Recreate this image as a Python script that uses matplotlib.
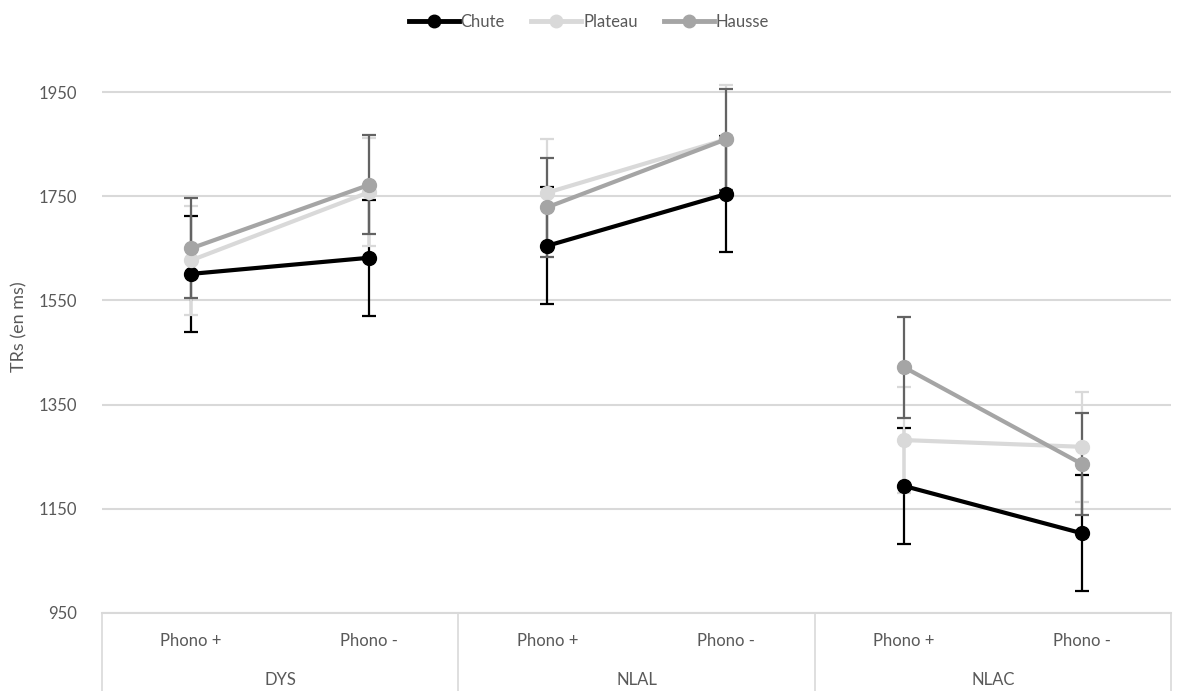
import matplotlib
matplotlib.use("Agg")
import matplotlib.pyplot as plt
from matplotlib.lines import Line2D

plt.rcParams['font.family'] = ['Lato', 'DejaVu Sans']

# data
groups = ['DYS', 'NLAL', 'NLAC']
conditions = ['Phono +', 'Phono -']
series = ['Chute', 'Plateau', 'Hausse']

chute = [1601, 1632, 1655, 1754, 1194, 1103]
plateau = [1627, 1758, 1757, 1859, 1282, 1269]
hausse = [1650, 1772, 1729, 1859, 1422, 1236]

chute_err = [111, 111, 112, 111, 111, 111]
plateau_err = [104, 104, 103, 104, 102, 105]
hausse_err = [96, 95, 95, 96, 97, 97]

yticks = [950, 1150, 1350, 1550, 1750, 1950]

line_colors = ['#000000', '#d9d9d9', '#a5a5a5']
err_colors = ['#000000', '#d9d9d9', '#636363']
text_col = '#595959'
grid_col = '#d9d9d9'

fig = plt.figure(figsize=(11.78, 6.91), dpi=100)
ax = fig.add_axes([0.0866, 0.1129, 0.9075, 0.8292])

values = [chute, plateau, hausse]
errors = [chute_err, plateau_err, hausse_err]
n = len(conditions)
for vals, errs, lc, ec in zip(values, errors, line_colors, err_colors):
    for g in range(len(groups)):
        xs = list(range(g * n, g * n + n))
        ys = vals[g * n:g * n + n]
        es = errs[g * n:g * n + n]
        ax.errorbar(xs, ys, yerr=es, fmt='none', ecolor=ec, elinewidth=1.6,
                    capsize=5, capthick=1.6, zorder=3)
        ax.plot(xs, ys, color=lc, lw=3, marker='o', markersize=10, zorder=4)

ax.set_xlim(-0.5, len(groups) * n - 0.5)
ax.set_ylim(950, 2050)
ax.set_yticks(yticks)
ax.yaxis.grid(True, color=grid_col, lw=1.5)
ax.set_axisbelow(True)
ax.set_xticks([])
for s in ax.spines.values():
    s.set_visible(False)
ax.tick_params(axis='y', length=0, labelsize=12, labelcolor=text_col, pad=18)
ax.set_ylabel('TRs (en ms)', fontsize=13, color=text_col, labelpad=8)

# category table below the axis
tr = ax.get_xaxis_transform()
bottom = -0.14
ax.plot([-0.5, len(groups) * n - 0.5], [0, 0], color=grid_col, lw=1.5,
        transform=tr, clip_on=False)
for k in range(len(groups) + 1):
    xv = k * n - 0.5
    ax.plot([xv, xv], [0, bottom], color=grid_col, lw=1.2, transform=tr, clip_on=False)
for g, grp in enumerate(groups):
    for c, cond in enumerate(conditions):
        ax.text(g * n + c, -0.049, cond, transform=tr, ha='center', va='center',
                fontsize=12, color=text_col)
    ax.text(g * n + (n - 1) / 2, -0.117, grp, transform=tr, ha='center', va='center',
            fontsize=12, color=text_col)

handles = [Line2D([], [], color=c, lw=3.5, marker='o', markersize=9) for c in line_colors]
leg = fig.legend(handles, series, loc='center', bbox_to_anchor=(0.5, 1 - 22 / 691),
                 ncol=3, frameon=False, fontsize=12, handlelength=3,
                 handletextpad=0.1, columnspacing=1.6)
for t in leg.get_texts():
    t.set_color(text_col)

fig.savefig('out.png', dpi=100)
